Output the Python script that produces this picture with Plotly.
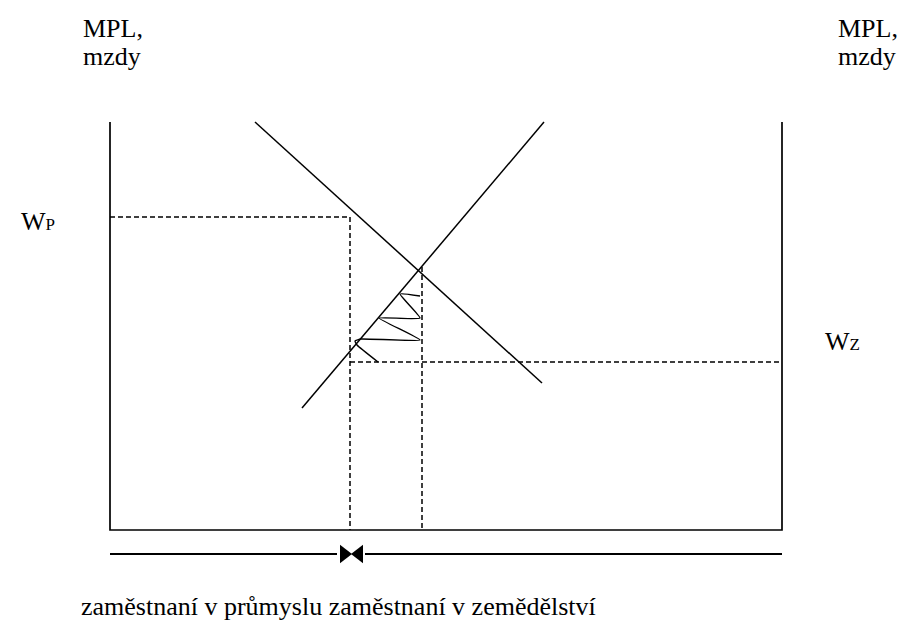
import plotly.graph_objects as go

# --- diagram data (units: horizontal = labour, vertical = MPL / wages; screen-like coordinates) ---
box_x = [110, 110, 782, 782]
box_y = [122, 530, 530, 122]

mpl_industry_x = [255, 542]
mpl_industry_y = [122, 383]

mpl_agri_x = [302, 544]
mpl_agri_y = [408, 122]

wage_p = 217
wage_z = 362
labour_split = 350
labour_eq = 422
axis_bottom = 530
axis_left = 110
axis_right = 782
eq_wage = 267

zigzag_x = [420, 400, 420, 379, 420, 361, 355, 357, 378]
zigzag_y = [296, 294, 318, 318, 340, 339, 341, 345, 362]

arrow_y = 554
arrow_meet = 351

label_mpl = "MPL,"
label_mzdy = "mzdy"
label_wp = "W<span style='font-size:17px'>P</span>"
label_wz = "W<span style='font-size:17px'>Z</span>"
label_bottom = "zaměstnaní v průmyslu zaměstnaní v zemědělství"

FONT = "Liberation Serif, Times New Roman, serif"
BLACK = "black"

fig = go.Figure()

def line(x, y, width=1.5, dash=None, shape="linear", smoothing=None):
    ln = dict(color=BLACK, width=width, shape=shape)
    if dash:
        ln["dash"] = dash
    if smoothing is not None:
        ln["smoothing"] = smoothing
    fig.add_trace(go.Scatter(x=x, y=y, mode="lines", line=ln,
                             hoverinfo="skip", showlegend=False))

# axes box
line(box_x, box_y, width=1.7)
# MPL curves
line(mpl_industry_x, mpl_industry_y, width=1.5)
line(mpl_agri_x, mpl_agri_y, width=1.5)
# dashed guides
DASH = "5px,3px"
line([axis_left, labour_split, labour_split], [wage_p, wage_p, axis_bottom], width=1.5, dash=DASH)
line([labour_split, axis_right], [wage_z, wage_z], width=1.5, dash=DASH)
line([labour_eq, labour_eq], [eq_wage, axis_bottom], width=1.5, dash=DASH)
# zigzag adjustment path
line(zigzag_x, zigzag_y, width=1.4, shape="spline", smoothing=0.4)

# bottom arrows
line([axis_left, arrow_meet - 14], [arrow_y, arrow_y], width=2.2)
line([arrow_meet + 14, axis_right], [arrow_y, arrow_y], width=2.2)
fig.add_trace(go.Scatter(x=[arrow_meet - 7], y=[arrow_y], mode="markers",
                         marker=dict(symbol="triangle-right", size=16, color=BLACK),
                         hoverinfo="skip", showlegend=False))
fig.add_trace(go.Scatter(x=[arrow_meet + 8], y=[arrow_y], mode="markers",
                         marker=dict(symbol="triangle-left", size=16, color=BLACK),
                         hoverinfo="skip", showlegend=False))

def text(x, y, s, size):
    fig.add_annotation(x=x, y=y, text=s, xanchor="left", yanchor="middle",
                       showarrow=False, xref="x", yref="y",
                       font=dict(family=FONT, size=size, color=BLACK))

text(81, 28, label_mpl, 26)
text(81, 56, label_mzdy, 26)
text(836, 28, label_mpl, 26)
text(836, 56, label_mzdy, 26)
text(19, 221, label_wp, 26)
text(823, 341, label_wz, 26)
text(79, 606, label_bottom, 26)

fig.update_layout(
    width=898, height=625,
    margin=dict(l=0, r=0, t=0, b=0),
    paper_bgcolor="white", plot_bgcolor="white",
    xaxis=dict(range=[0, 898], visible=False, fixedrange=True),
    yaxis=dict(range=[625, 0], visible=False, fixedrange=True),
)

fig.write_html("out.html", config={"displayModeBar": False},
               post_script="document.body.style.margin='0';document.body.style.overflow='hidden';")
